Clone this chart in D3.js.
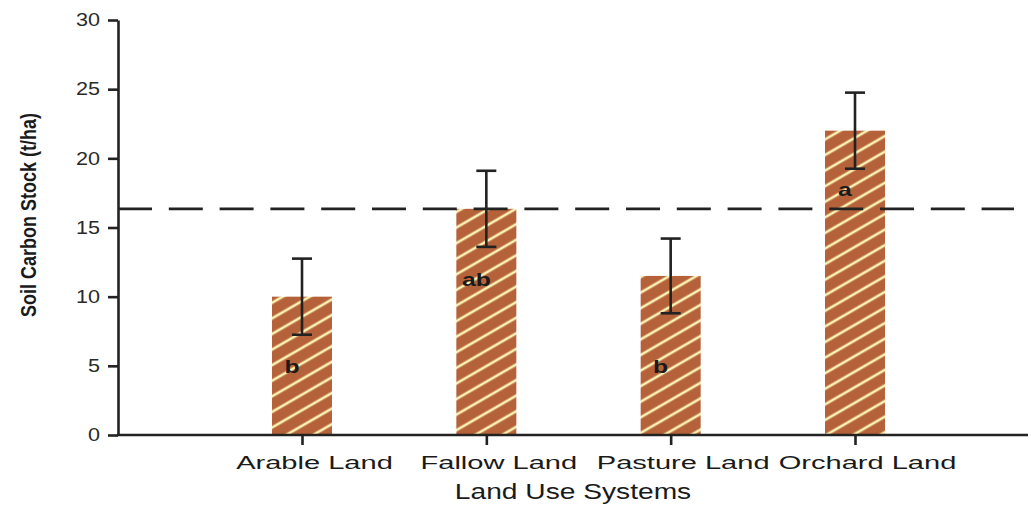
<!DOCTYPE html>
<html>
<head>
<meta charset="utf-8">
<script src="https://cdn.jsdelivr.net/npm/d3@7"></script>
<style>
  body { margin: 0; background: #fff; }
  text { font-family: "Liberation Sans", Arial, sans-serif; }
</style>
</head>
<body>
<div id="chart"></div>
<script>
// Data
var categories = ["Arable Land", "Fallow Land", "Pasture Land", "Orchard Land"];
var carbonStock = [10.0, 16.35, 11.5, 22.0];
var stdError = [2.75, 2.75, 2.7, 2.75];
var groupLetters = ["b", "ab", "b", "a"];
var letterLevel = [4.5, 10.8, 4.5, 17.3];
var referenceLine = 16.35;
var yTicks = [0, 5, 10, 15, 20, 25, 30];

var width = 1031;
var height = 506;
var axisX = 118;
var baseY = 435;
var topY = 20;
var axisEnd = 1028;

var data = categories.map(function(c, i) {
    return { name: c, value: carbonStock[i], err: stdError[i], letter: groupLetters[i], lv: letterLevel[i] };
});

var svg = d3.select("#chart")
    .append("svg")
    .attr("width", width)
    .attr("height", height);

// hatch pattern
var defs = svg.append("defs");
var pat = defs.append("pattern")
    .attr("id", "hatch")
    .attr("patternUnits", "userSpaceOnUse")
    .attr("width", 13.5)
    .attr("height", 13.5)
    .attr("patternTransform", "rotate(-30)");
pat.append("rect").attr("width", 13.5).attr("height", 13.5).attr("fill", "#b5623a");
pat.append("line")
    .attr("x1", 0).attr("x2", 13.5)
    .attr("y1", 6.75).attr("y2", 6.75)
    .attr("stroke", "#fdf2b6")
    .attr("stroke-width", 2.6);

// scales
var y = d3.scaleLinear().domain([0, 30]).range([baseY, topY]);
var x = d3.scalePoint().domain(categories).range([302, 855]);
var barW = 60;

// stretch text horizontally (the original figure is widened)
function stretch(sel, f) {
    sel.each(function() {
        var len = this.getComputedTextLength();
        d3.select(this).attr("textLength", len * f).attr("lengthAdjust", "spacingAndGlyphs");
    });
}

// bars
svg.append("g").selectAll("rect")
    .data(data)
    .enter()
    .append("rect")
    .attr("x", function(d) { return x(d.name) - barW / 2; })
    .attr("y", function(d) { return y(d.value); })
    .attr("width", barW)
    .attr("height", function(d) { return y(0) - y(d.value); })
    .attr("fill", "url(#hatch)");

// reference dashed line
svg.append("line")
    .attr("x1", axisX).attr("x2", 1014)
    .attr("y1", y(referenceLine)).attr("y2", y(referenceLine))
    .attr("stroke", "#222")
    .attr("stroke-width", 2.6)
    .attr("stroke-dasharray", "34,16.8");

// error bars
var eb = svg.append("g").selectAll("g")
    .data(data)
    .enter()
    .append("g")
    .attr("stroke", "#222")
    .attr("stroke-width", 2.6);
eb.append("line")
    .attr("x1", function(d) { return x(d.name); })
    .attr("x2", function(d) { return x(d.name); })
    .attr("y1", function(d) { return y(d.value + d.err); })
    .attr("y2", function(d) { return y(d.value - d.err); });
eb.append("line")
    .attr("x1", function(d) { return x(d.name) - 10; })
    .attr("x2", function(d) { return x(d.name) + 10; })
    .attr("y1", function(d) { return y(d.value + d.err); })
    .attr("y2", function(d) { return y(d.value + d.err); });
eb.append("line")
    .attr("x1", function(d) { return x(d.name) - 10; })
    .attr("x2", function(d) { return x(d.name) + 10; })
    .attr("y1", function(d) { return y(d.value - d.err); })
    .attr("y2", function(d) { return y(d.value - d.err); });

// significance letters
svg.append("g").selectAll("text")
    .data(data)
    .enter()
    .append("text")
    .attr("x", function(d) { return x(d.name) - 10; })
    .attr("y", function(d) { return y(d.lv); })
    .attr("text-anchor", "middle")
    .attr("font-size", "19px")
    .attr("font-weight", "bold")
    .attr("fill", "#1a1a1a")
    .text(function(d) { return d.letter; })
    .call(stretch, 1.3);

// y axis
var yAxis = d3.axisLeft(y).tickValues(yTicks).tickSize(10).tickSizeOuter(0).tickPadding(8);
var gy = svg.append("g")
    .attr("transform", "translate(" + axisX + ",0)")
    .call(yAxis);
gy.select(".domain").attr("stroke", "#222").attr("stroke-width", 2.6);
gy.selectAll(".tick line").attr("stroke", "#222").attr("stroke-width", 2.6);
gy.selectAll(".tick text")
    .attr("font-size", "18px")
    .attr("font-family", "'Liberation Sans', Arial, sans-serif")
    .attr("fill", "#2a2a2a")
    .call(stretch, 1.2);

// x axis
svg.append("line")
    .attr("x1", axisX - 1).attr("x2", axisEnd)
    .attr("y1", baseY).attr("y2", baseY)
    .attr("stroke", "#222")
    .attr("stroke-width", 2.6);
var xAxis = d3.axisBottom(x).tickSize(10).tickSizeOuter(0).tickPadding(12);
var gx = svg.append("g")
    .attr("transform", "translate(0," + baseY + ")")
    .call(xAxis);
gx.select(".domain").remove();
gx.selectAll(".tick line").attr("stroke", "#222").attr("stroke-width", 2.6);
gx.selectAll(".tick text")
    .attr("font-size", "17.5px")
    .attr("font-family", "'Liberation Sans', Arial, sans-serif")
    .attr("fill", "#1a1a1a")
    .attr("dx", 12)
    .call(stretch, 1.66);

// axis titles
svg.append("text")
    .attr("x", (axisX + axisEnd) / 2)
    .attr("y", 499)
    .attr("text-anchor", "middle")
    .attr("font-size", "22px")
    .attr("fill", "#1a1a1a")
    .text("Land Use Systems")
    .call(stretch, 1.28);

svg.append("text")
    .attr("transform", "translate(36,215) scale(1.2,1) rotate(-90)")
    .attr("text-anchor", "middle")
    .attr("font-size", "18px")
    .attr("font-weight", "bold")
    .attr("fill", "#1a1a1a")
    .text("Soil Carbon Stock (t/ha)");
</script>
</body>
</html>
